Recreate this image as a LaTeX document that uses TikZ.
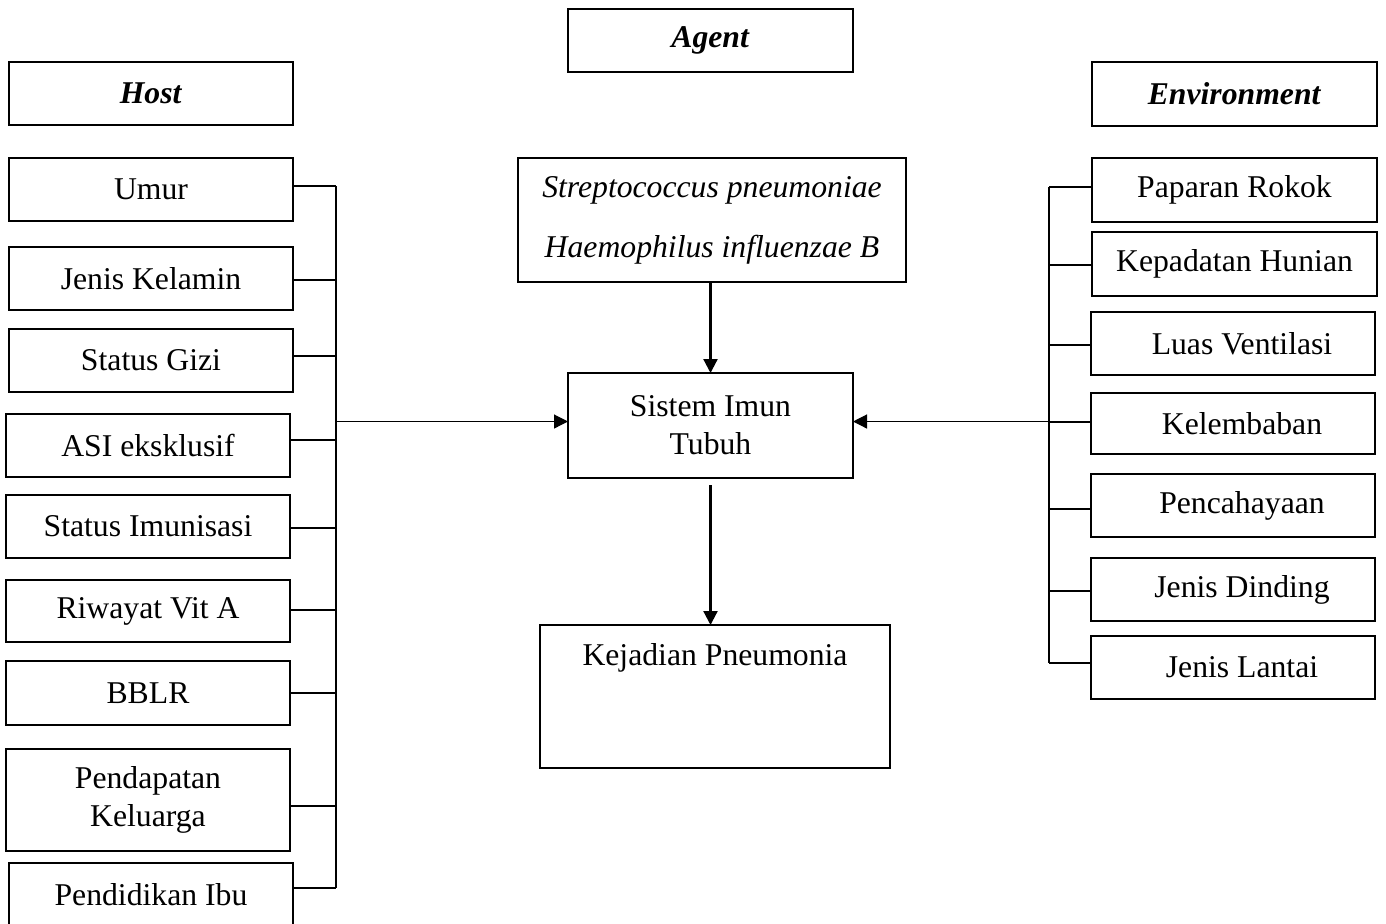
\documentclass[tikz,border=0pt]{standalone}
\usepackage{fontspec}
\setmainfont{Liberation Serif}
\usetikzlibrary{arrows.meta,calc}
\begin{document}
\begin{tikzpicture}[x=0.5pt,y=-0.5pt,
  box/.style={draw=black,line width=1pt,inner sep=0pt,outer sep=0pt,align=center,
    font=\fontsize{15.85}{19}\selectfont},
  conn/.style={draw=black,line width=0.6pt},
  thinarrow/.style={draw=black,line width=0.6pt,-{Triangle[length=7pt,width=7pt]}},
  thickarrow/.style={draw=black,line width=1.1pt,-{Triangle[length=7pt,width=7pt]}}]
\useasboundingbox[fill=white] (0,0) rectangle (1386,923);
% left column
\node[box,minimum width=142pt,minimum height=31.5pt] (host) at (151,93.5) {\textbf{\textit{Host}}};
\node[box,minimum width=142pt,minimum height=31.5pt] (umur) at (151,189.5) {Umur};
\node[box,minimum width=142pt,minimum height=31.5pt] (jk) at (151,278.5) {Jenis Kelamin};
\node[box,minimum width=142pt,minimum height=31.5pt] (gizi) at (151,360.5) {Status Gizi};
\node[box,minimum width=142pt,minimum height=31.5pt] (asi) at (148,445.5) {ASI eksklusif};
\node[box,minimum width=142pt,minimum height=31.5pt] (imun) at (148,526.5) {Status Imunisasi};
\node[box,minimum width=142pt,minimum height=31pt] (vit) at (148,611) {Riwayat Vit A};
\node[box,minimum width=142pt,minimum height=32pt] (bblr) at (148,693) {BBLR};
\node[box,minimum width=142pt,minimum height=51pt] (pend) at (148,800) {Pendapatan\\Keluarga};
\node[box,minimum width=142pt,minimum height=32pt] (ibu) at (151,895) {Pendidikan Ibu};
% centre
\node[box,minimum width=142.5pt,minimum height=31.5pt] (agent) at (710.5,40) {\textbf{\textit{Agent}}};
\node[box,minimum width=194pt,minimum height=62pt] (strep) at (712,220) {\textit{Streptococcus pneumoniae}\\[11pt]\textit{Haemophilus influenzae B}};
\node[box,minimum width=142.5pt,minimum height=52.5pt] (sistem) at (710.5,425.5) {Sistem Imun\\Tubuh};
\node[box,minimum width=175pt,text height=20pt,text depth=51.5pt,anchor=north] (kej) at (715,625) {Kejadian Pneumonia};
% right column
\node[box,minimum width=142.5pt,minimum height=32pt] (env) at (1234.5,94) {\textbf{\textit{Environment}}};
\node[box,minimum width=142.5pt,minimum height=32pt] (rokok) at (1234.5,190) {Paparan Rokok};
\node[box,minimum width=142.5pt,minimum height=32pt] (hunian) at (1234.5,264) {Kepadatan Hunian};
\node[box,minimum width=142pt,minimum height=31.5pt] (vent) at (1233,343.5) {\hspace*{9pt}Luas Ventilasi};
\node[box,minimum width=142pt,minimum height=30.5pt] (lembab) at (1233,423.5) {\hspace*{9pt}Kelembaban};
\node[box,minimum width=142pt,minimum height=31.5pt] (cahaya) at (1233,505.5) {\hspace*{9pt}Pencahayaan};
\node[box,minimum width=142pt,minimum height=31.5pt] (dinding) at (1233,589.5) {\hspace*{9pt}Jenis Dinding};
\node[box,minimum width=142pt,minimum height=31.5pt] (lantai) at (1233,667.5) {\hspace*{9pt}Jenis Lantai};
% buses
\coordinate (bL) at (336,0);
\coordinate (bR) at (1049,0);
\foreach \n/\d in {umur/-3.5,jk/1.5,gizi/-4.5,asi/-5.5,imun/1.5,vit/-1,bblr/0,pend/6,ibu/-7}
  \draw[conn] ($(\n.east)+(0,\d)$) -- ($(\n.east -| bL)+(0,\d)$);
\draw[conn] ($(umur.east -| bL)+(0,-3.5)$) -- ($(ibu.east -| bL)+(0,-7)$);
\foreach \n/\d in {rokok/-3,hunian/1,vent/1.5,lembab/-1.5,cahaya/3.5,dinding/1.5,lantai/-4.5}
  \draw[conn] ($(\n.west)+(0,\d)$) -- ($(\n.west -| bR)+(0,\d)$);
\draw[conn] ($(rokok.west -| bR)+(0,-3)$) -- ($(lantai.west -| bR)+(0,-4.5)$);
% arrows
\draw[thinarrow] ($(sistem.west -| bL)+(0,-4)$) -- ($(sistem.west)+(0,-4)$);
\draw[thinarrow] ($(sistem.east -| bR)+(0,-4)$) -- ($(sistem.east)+(0,-4)$);
\draw[thickarrow] (strep.south -| sistem.north) -- (sistem.north);
\draw[thickarrow,shorten <=3.5pt] (sistem.south) -- (sistem.south |- kej.north);
\end{tikzpicture}
\end{document}
